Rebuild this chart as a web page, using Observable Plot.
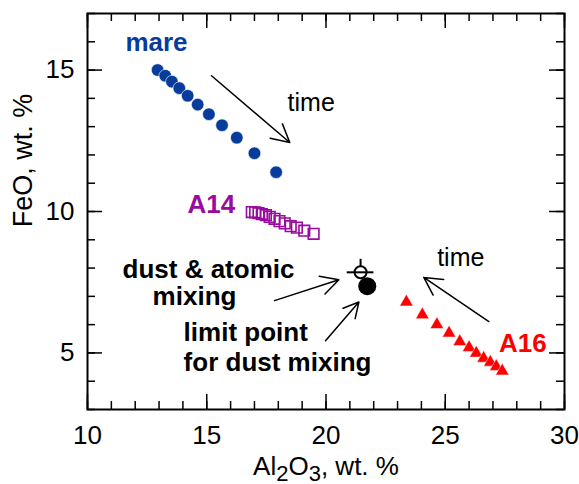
<!DOCTYPE html>
<html><head><meta charset="utf-8">
<script src="https://cdn.jsdelivr.net/npm/d3@7"></script>
<script src="https://cdn.jsdelivr.net/npm/@observablehq/plot@0.6"></script>
<style>body{margin:0;background:#fff} #chart svg{display:block}</style>
</head><body><div id="chart"></div>
<script>
// Data (Al2O3 wt.%, FeO wt.%)
const mareAl = [12.94, 13.26, 13.54, 13.85, 14.20, 14.62, 15.09, 15.64, 16.26, 17.00, 17.91];
const mareFe = [15.00, 14.80, 14.59, 14.36, 14.09, 13.78, 13.44, 13.05, 12.61, 12.06, 11.39];
const a14Al = [16.89, 17.03, 17.17, 17.31, 17.48, 17.64, 17.84, 18.05, 18.27, 18.52, 18.78, 19.09, 19.48];
const a14Fe = [9.98, 9.97, 9.94, 9.91, 9.87, 9.81, 9.74, 9.66, 9.58, 9.48, 9.43, 9.32, 9.21];
const a16Al = [23.37, 24.04, 24.65, 25.16, 25.61, 26.00, 26.30, 26.61, 26.89, 27.14, 27.39];
const a16Fe = [6.80, 6.35, 6.00, 5.70, 5.40, 5.19, 4.99, 4.81, 4.67, 4.52, 4.36];
const dustAtomicAl = [21.45];
const dustAtomicFe = [7.85];
const dustAtomicErrAl = [0.56];
const dustAtomicErrFe = [0.46];
const limitAl = [21.73];
const limitFe = [7.36];
const xTicksMajor = [10, 15, 20, 25, 30];
const yTicksMajor = [5, 10, 15];
const xTicksMinor = d3.range(10, 31, 1);
const yTicksMinor = d3.range(3, 18, 1);

const W = 579, H = 484;
const mL = 87, mR = 15, mT = 13, mB = 75;
const iw = W - mL - mR, ih = H - mT - mB;
const font = "'Liberation Sans', Arial, Helvetica, sans-serif";
const blue = "#083c9c", purple = "#9a0a9e", red = "#ff0000";
const idx = a => a.map((_, i) => i);
const majLen = 15, minLen = 8;

const plot = Plot.plot({
  width: W, height: H,
  marginLeft: mL, marginRight: mR, marginTop: mT, marginBottom: mB,
  x: {domain: [10, 30], label: null},
  y: {domain: [3, 17], label: null},
  style: {fontFamily: font, background: "white", color: "black"},
  marks: [
    // inward ticks, all four sides
    Plot.tickX(xTicksMinor, {x: d => d, insetTop: ih - minLen, stroke: "black", strokeWidth: 1.5}),
    Plot.tickX(xTicksMinor, {x: d => d, insetBottom: ih - minLen, stroke: "black", strokeWidth: 1.5}),
    Plot.tickX(xTicksMajor, {x: d => d, insetTop: ih - majLen, stroke: "black", strokeWidth: 1.5}),
    Plot.tickX(xTicksMajor, {x: d => d, insetBottom: ih - majLen, stroke: "black", strokeWidth: 1.5}),
    Plot.tickY(yTicksMinor, {y: d => d, insetRight: iw - minLen, stroke: "black", strokeWidth: 1.5}),
    Plot.tickY(yTicksMinor, {y: d => d, insetLeft: iw - minLen, stroke: "black", strokeWidth: 1.5}),
    Plot.tickY(yTicksMajor, {y: d => d, insetRight: iw - majLen, stroke: "black", strokeWidth: 1.5}),
    Plot.tickY(yTicksMajor, {y: d => d, insetLeft: iw - majLen, stroke: "black", strokeWidth: 1.5}),
    Plot.axisX(xTicksMajor, {anchor: "bottom", tickSize: 0, tickPadding: 16, fontSize: 26, tickFormat: d => d, label: null}),
    Plot.axisY(yTicksMajor, {anchor: "left", tickSize: 0, tickPadding: 13, fontSize: 26, tickFormat: d => d, label: null}),
    Plot.frame({stroke: "black", strokeWidth: 2}),

    // series
    Plot.dot(idx(mareAl), {x: i => mareAl[i], y: i => mareFe[i], r: 6.3, fill: blue, stroke: "white", strokeWidth: 0.6}),
    Plot.dot(idx(a14Al), {x: i => a14Al[i], y: i => a14Fe[i], symbol: "square", r: 6, fill: "none", stroke: purple, strokeWidth: 1.6}),
    Plot.dot(idx(a16Al), {x: i => a16Al[i], y: i => a16Fe[i], symbol: "triangle", r: 5, fill: red, stroke: "white", strokeWidth: 0.5}),

    // dust & atomic mixing point with error bars
    Plot.ruleX(idx(dustAtomicAl), {x: i => dustAtomicAl[i], y1: i => dustAtomicFe[i], y2: i => dustAtomicFe[i] + dustAtomicErrFe[i], stroke: "black", strokeWidth: 2}),
    Plot.dot(idx(dustAtomicAl), {x: i => dustAtomicAl[i], y: i => dustAtomicFe[i], r: 6, fill: "white", stroke: "black", strokeWidth: 2}),
    Plot.ruleY(idx(dustAtomicAl), {y: i => dustAtomicFe[i], x1: i => dustAtomicAl[i] - dustAtomicErrAl[i], x2: i => dustAtomicAl[i] + dustAtomicErrAl[i], stroke: "black", strokeWidth: 2}),
    Plot.dot(idx(limitAl), {x: i => limitAl[i], y: i => limitFe[i], r: 9, fill: "black"}),

    // arrows
    Plot.arrow([0], {x1: 15.20, y1: 14.80, x2: 18.48, y2: 12.44, stroke: "black", strokeWidth: 1.5, headLength: 20, headAngle: 56}),
    Plot.arrow([0], {x1: 26.83, y1: 6.11, x2: 24.10, y2: 7.67, stroke: "black", strokeWidth: 1.5, headLength: 20, headAngle: 56}),
    Plot.arrow([0], {x1: 17.84, y1: 6.85, x2: 20.54, y2: 7.59, stroke: "black", strokeWidth: 1.5, headLength: 20, headAngle: 56}),
    Plot.arrow([0], {x1: 19.98, y1: 5.43, x2: 21.38, y2: 6.80, stroke: "black", strokeWidth: 1.5, headLength: 20, headAngle: 56}),

    // annotations
    Plot.text(["mare"], {x: 11.59, y: 15.69, text: d => d, textAnchor: "start", lineAnchor: "bottom", fill: blue, fontWeight: "bold", fontSize: 26}),
    Plot.text(["time"], {x: 18.39, y: 13.56, text: d => d, textAnchor: "start", lineAnchor: "bottom", fill: "black", fontSize: 25}),
    Plot.text(["A14"], {x: 14.19, y: 9.94, text: d => d, textAnchor: "start", lineAnchor: "bottom", fill: purple, fontWeight: "bold", fontSize: 26}),
    Plot.text(["time"], {x: 24.66, y: 8.09, text: d => d, textAnchor: "start", lineAnchor: "bottom", fill: "black", fontSize: 25}),
    Plot.text(["A16"], {x: 27.25, y: 5.05, text: d => d, textAnchor: "start", lineAnchor: "bottom", fill: red, fontWeight: "bold", fontSize: 26}),
    Plot.text(["dust & atomic"], {x: 11.47, y: 7.66, text: d => d, textAnchor: "start", lineAnchor: "bottom", fill: "black", fontWeight: "bold", fontSize: 26}),
    Plot.text(["mixing"], {x: 12.73, y: 6.70, text: d => d, textAnchor: "start", lineAnchor: "bottom", fill: "black", fontWeight: "bold", fontSize: 26}),
    Plot.text(["limit point"], {x: 14.03, y: 5.41, text: d => d, textAnchor: "start", lineAnchor: "bottom", fill: "black", fontWeight: "bold", fontSize: 26}),
    Plot.text(["for dust mixing"], {x: 14.03, y: 4.36, text: d => d, textAnchor: "start", lineAnchor: "bottom", fill: "black", fontWeight: "bold", fontSize: 26}),

    // axis titles
    Plot.text(["FeO, wt. %"], {x: 10, y: 11.8, dx: -64, rotate: -90, text: d => d, textAnchor: "middle", lineAnchor: "middle", fill: "black", fontSize: 27}),
    Plot.text(["Al2O3, wt. %"], {frameAnchor: "bottom", x: 20, dy: 65, text: d => d, textAnchor: "middle", lineAnchor: "bottom", fill: "black", fontSize: 26, className: "xlab"})
  ]
});

// subscripts in the x-axis title
d3.select(plot).selectAll(".xlab text").each(function () {
  const t = d3.select(this);
  t.text(null);
  const parts = [["Al", 0], ["2", 1], ["O", 0], ["3", 1], [", wt. %", 0]];
  let prev = 0;
  for (const [s, sub] of parts) {
    const shift = sub ? 6 : 0;
    t.append("tspan").attr("dy", shift - prev).attr("font-size", sub ? "22px" : null).text(s);
    prev = shift;
  }
});

document.getElementById("chart").appendChild(plot);
</script>
</body></html>
